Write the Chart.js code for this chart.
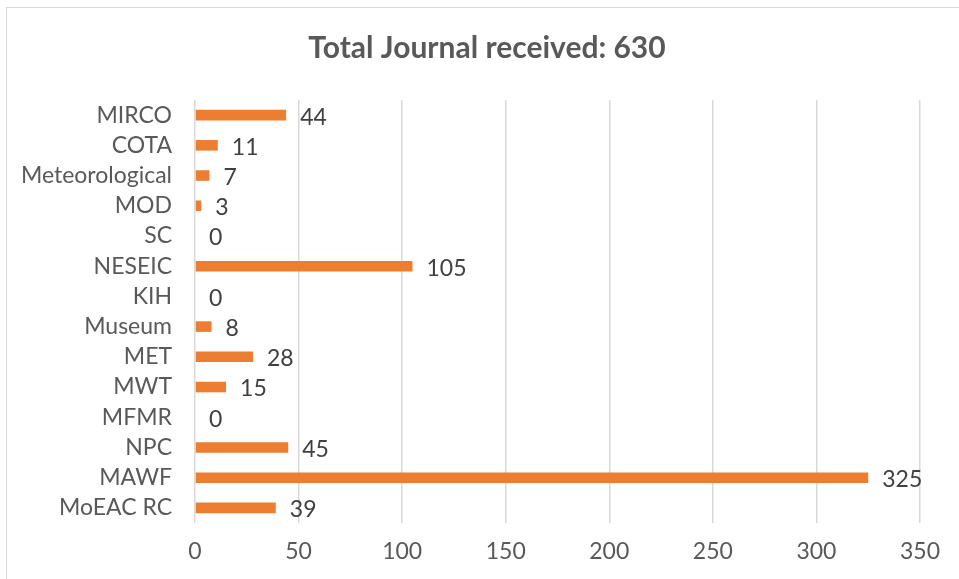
<!DOCTYPE html>
<html>
<head>
<meta charset="utf-8">
<title>Total Journal received</title>
<script src="https://cdn.jsdelivr.net/npm/chart.js@4.4.1/dist/chart.umd.min.js"></script>
<style>
  html, body { margin: 0; padding: 0; background: #fff; }
  #wrap { position: relative; width: 959px; height: 579px; overflow: hidden; }
  #frame { position: absolute; left: 6px; top: 7px; width: 1000px; height: 620px; border: 1.5px solid #d9d9d9; }
  canvas { position: absolute; left: 0; top: 0; }
</style>
</head>
<body>
<div id="wrap">
  <div id="frame"></div>
  <canvas id="journalChart" width="959" height="579"></canvas>
</div>
<script>
// journals received per office, top to bottom
const offices = ['MIRCO', 'COTA', 'Meteorological', 'MOD', 'SC', 'NESEIC', 'KIH',
  'Museum', 'MET', 'MWT', 'MFMR', 'NPC', 'MAWF', 'MoEAC RC'];
const received = [44, 11, 7, 3, 0, 105, 0, 8, 28, 15, 0, 45, 325, 39];
const xTicks = [0, 50, 100, 150, 200, 250, 300, 350];

const total = received.reduce((a, b) => a + b, 0);
const FONT = 'Lato, "Open Sans", sans-serif';
const GREY = '#595959';

// heading, centred over the whole chart box rather than the plot
const heading = {
  id: 'heading',
  afterDraw(chart) {
    const ctx = chart.ctx;
    ctx.save();
    ctx.font = 'bold 30px ' + FONT;
    ctx.fillStyle = GREY;
    ctx.textAlign = 'center';
    ctx.textBaseline = 'middle';
    ctx.fillText('Total Journal received: ' + total, 487, 48);
    ctx.restore();
  }
};

// prints the count just past the end of each bar
const barValues = {
  id: 'barValues',
  afterDatasetsDraw(chart) {
    const ctx = chart.ctx;
    const meta = chart.getDatasetMeta(0);
    ctx.save();
    ctx.font = '23px ' + FONT;
    ctx.fillStyle = '#404040';
    ctx.textAlign = 'left';
    ctx.textBaseline = 'middle';
    meta.data.forEach((bar, i) => {
      ctx.fillText(String(received[i]), bar.x + 14, bar.y + 2);
    });
    ctx.restore();
  }
};

new Chart(document.getElementById('journalChart'), {
  type: 'bar',
  data: {
    labels: offices,
    datasets: [{
      data: received,
      backgroundColor: '#ED7D31',
      borderWidth: 0,
      barPercentage: 0.35,
      categoryPercentage: 1
    }]
  },
  options: {
    indexAxis: 'y',
    responsive: false,
    animation: false,
    layout: { padding: { top: 100, right: 39, bottom: 0, left: 0 } },
    scales: {
      x: {
        min: 0,
        max: 350,
        afterBuildTicks(scale) {
          scale.ticks = xTicks.map(v => ({ value: v }));
        },
        afterFit(scale) { scale.height = 56; },
        grid: { color: '#d9d9d9', lineWidth: 1.5, drawTicks: false },
        border: { display: false },
        ticks: { color: GREY, font: { family: FONT, size: 23 }, padding: 15 }
      },
      y: {
        afterFit(scale) { scale.width = 195; },
        grid: { display: false, drawTicks: false },
        border: { display: false },
        ticks: { color: GREY, font: { family: FONT, size: 23 }, padding: 23, autoSkip: false }
      }
    },
    plugins: {
      legend: { display: false },
      tooltip: { enabled: false },
      title: { display: false }
    }
  },
  plugins: [barValues, heading]
});
</script>
</body>
</html>
